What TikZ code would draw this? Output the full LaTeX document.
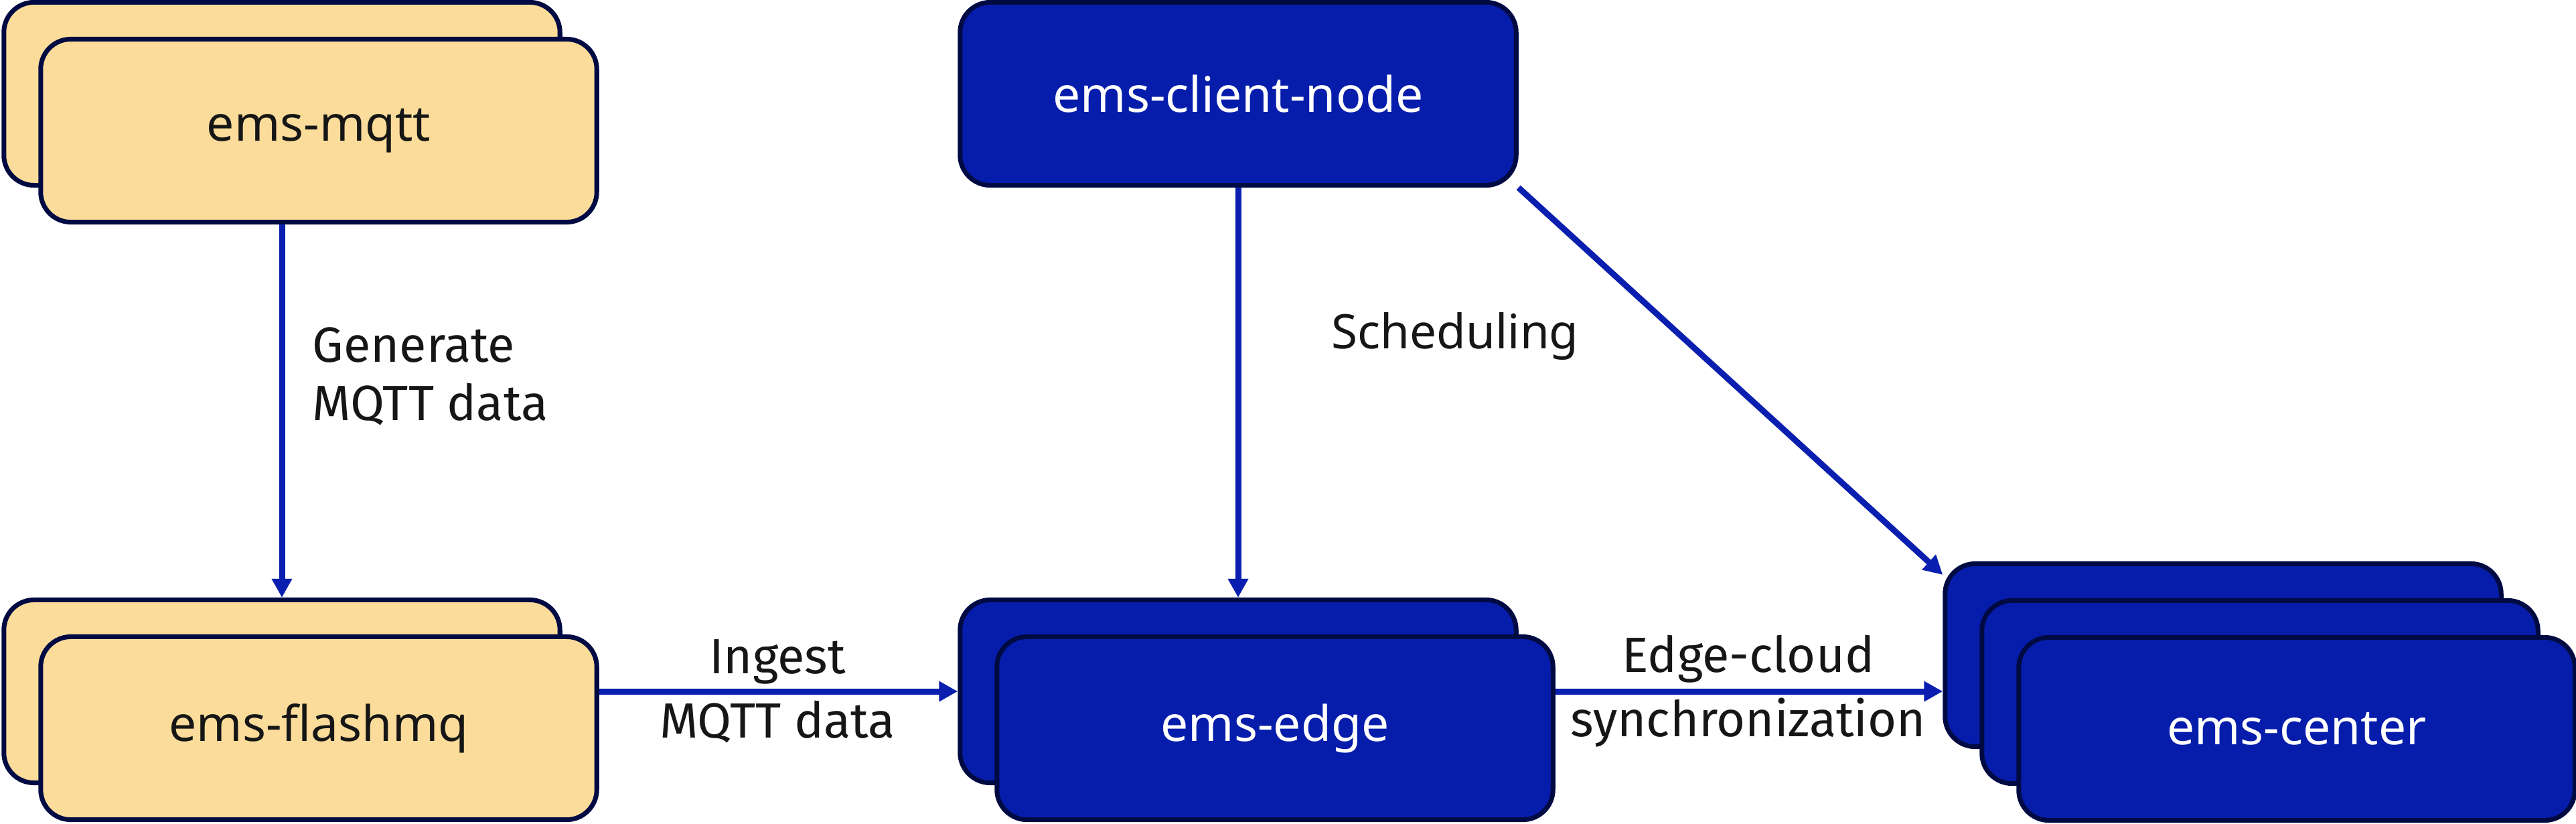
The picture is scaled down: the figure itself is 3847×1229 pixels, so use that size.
\documentclass[tikz,border=0pt]{standalone}
\usepackage{fontspec}
\usetikzlibrary{arrows.meta}
\newfontfamily\boxfont{Noto Sans}
\newfontfamily\lblfont{Fira Sans}
\definecolor{mqttfill}{HTML}{FBDC9A}
\definecolor{emsblue}{HTML}{061DAB}
\definecolor{emsline}{HTML}{000A42}
\definecolor{flowblue}{HTML}{0A1FAF}
\definecolor{inktext}{HTML}{161616}

\begin{document}
\begin{tikzpicture}[x=0.01cm, y=-0.01cm,
    svc/.style={draw=emsline, line width=0.07cm, rounded corners=0.45cm,
        minimum width=8.3cm, minimum height=2.73cm, inner sep=0pt,
        font=\boxfont\fontsize{20.8}{25}\selectfont},
    broker/.style={svc, fill=mqttfill, text=inktext},
    ems/.style={svc, fill=emsblue, text=white},
    flow/.style={draw=flowblue, line width=0.09cm,
        -{Triangle[length=0.28cm, width=0.29cm]}},
    lbl/.style={text=inktext, inner sep=0pt, align=center,
        font=\lblfont\fontsize{21}{27.3}\selectfont}
]
    \useasboundingbox (0,0) rectangle (3847,1229);
    % brokers
    \node[broker] (mqttB) at (421,140) {};
    \node[broker] (mqttF) at (476,195) {ems-mqtt};
    \node[broker] (flashB) at (421,1032) {};
    \node[broker] (flashF) at (476,1087) {ems-flashmq};
    % ems services
    \node[ems] (client) at (1849,140) {ems-client-node};
    \node[ems] (edgeB) at (1849,1032) {};
    \node[ems] (edgeF) at (1904,1087) {ems-edge};
    \node[ems] (centerB) at (3320,978) {};
    \node[ems] (centerM) at (3375,1033) {};
    \node[ems] (centerF) at (3430,1088) {ems-center};
    % arrows
    \draw[flow] (mqttF.south -| mqttB.center) -- (flashB.north);
    \draw[flow] (flashF.east |- flashB.center) -- (edgeB.west);
    \draw[flow] (client.south) -- (edgeB.north);
    \draw[flow] (edgeF.east |- edgeB.center) -- (centerB.west |- edgeB.center);
    \draw[flow] (client.south east) -- ([yshift=-0.2cm]centerB.north west);
    % labels
    \node[lbl, anchor=west, align=left, font=\lblfont\fontsize{21}{24.7}\selectfont]
        (genlbl) at (466,562) {Generate\\MQTT data};
    \node[lbl] (ingestlbl) at (1161,1032) {Ingest\\MQTT data};
    \node[lbl] (synclbl) at (2611,1032) {Edge-cloud\\synchronization};
    \node[text=inktext, inner sep=0pt, anchor=base west,
        font=\boxfont\fontsize{20.2}{25}\selectfont] (schedlbl) at (1988,520) {Scheduling};
\end{tikzpicture}
\end{document}
